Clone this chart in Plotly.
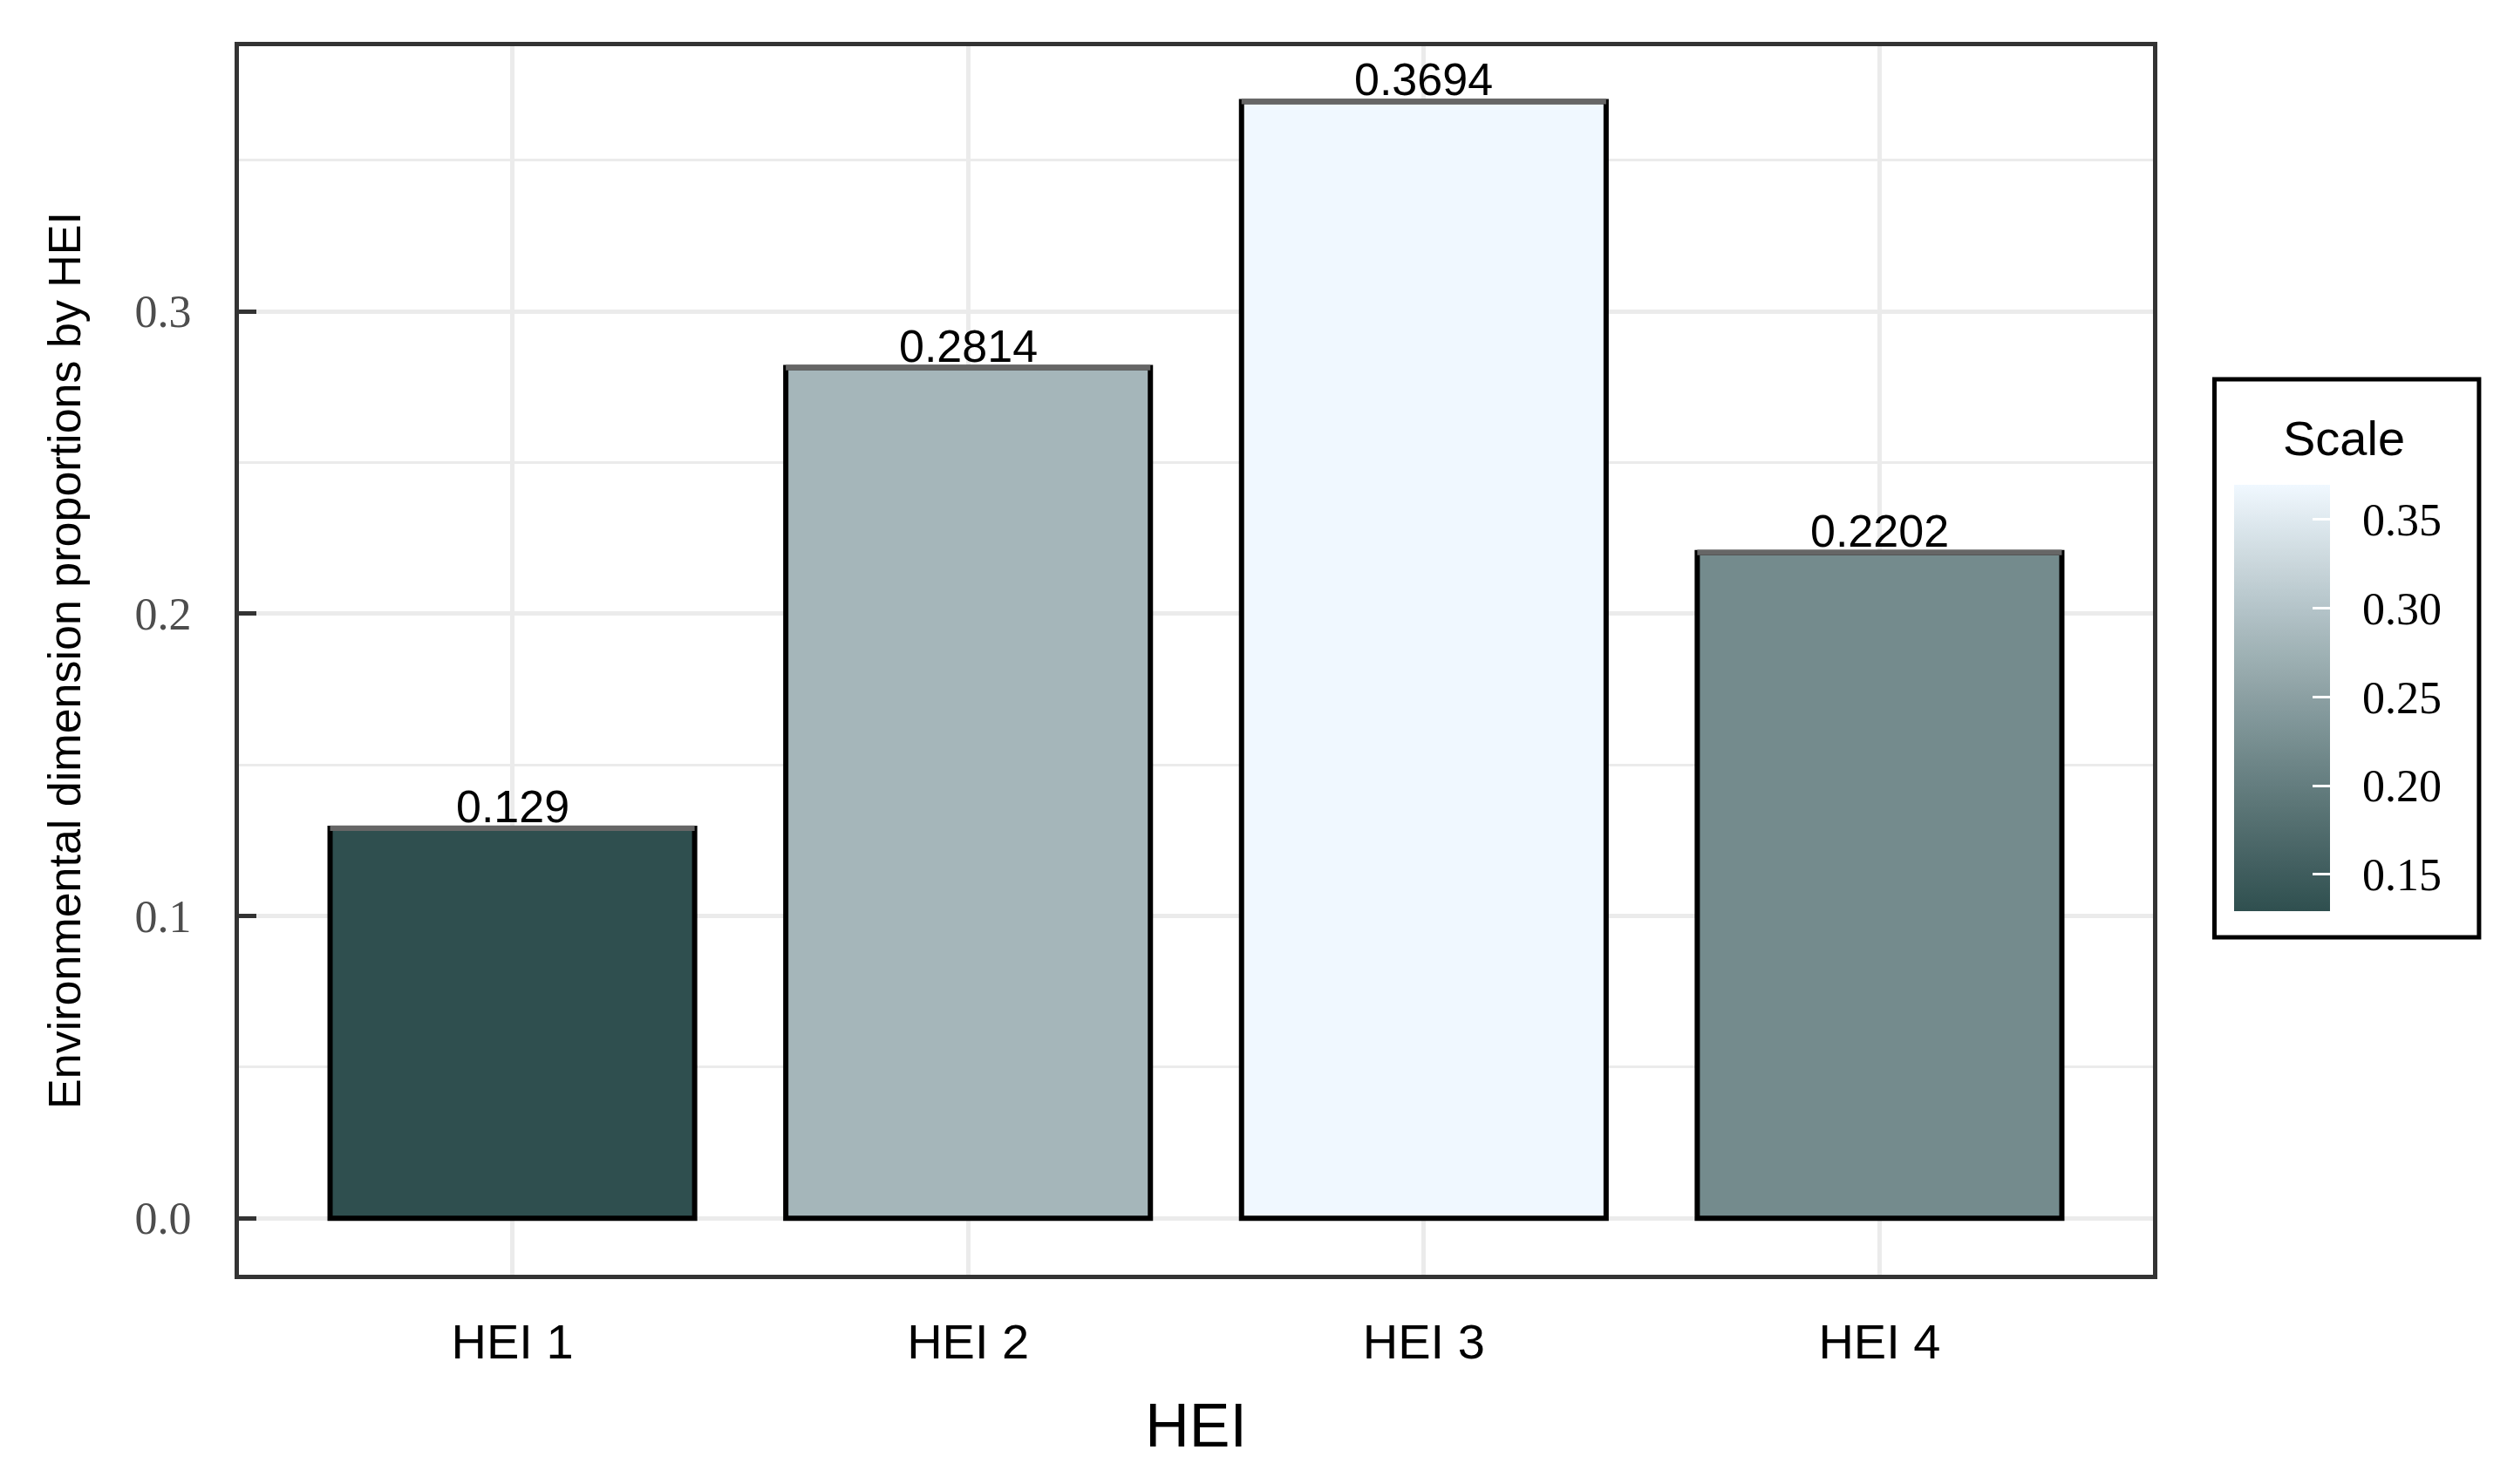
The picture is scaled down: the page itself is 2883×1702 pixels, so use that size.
import numpy as np
import plotly.graph_objects as go

categories = ["HEI 1", "HEI 2", "HEI 3", "HEI 4"]
values = [0.129, 0.2814, 0.3694, 0.2202]
labels = ["0.129", "0.2814", "0.3694", "0.2202"]
y_ticks = [0.0, 0.1, 0.2, 0.3]
y_ticklabels = ["0.0", "0.1", "0.2", "0.3"]
cb_ticks = [0.15, 0.20, 0.25, 0.30, 0.35]
cb_ticklabels = ["0.15", "0.20", "0.25", "0.30", "0.35"]

low_color = "#2F4F4F"
high_color = "#F0F8FF"


# gradient interpolated in CIELAB (like ggplot2's scale_fill_gradient)
def _hex2rgb(h):
    h = h.lstrip("#")
    return np.array([int(h[i:i + 2], 16) for i in (0, 2, 4)]) / 255.0


def _srgb2lin(c):
    return np.where(c <= 0.04045, c / 12.92, ((c + 0.055) / 1.055) ** 2.4)


def _lin2srgb(c):
    c = np.clip(c, 0, 1)
    return np.where(c <= 0.0031308, 12.92 * c, 1.055 * c ** (1 / 2.4) - 0.055)


M = np.array([[0.4124, 0.3576, 0.1805], [0.2126, 0.7152, 0.0722], [0.0193, 0.1192, 0.9505]])
WHT = np.array([0.95047, 1.0, 1.08883])


def _rgb2lab(rgb):
    xyz = M @ _srgb2lin(rgb) / WHT
    f = np.where(xyz > 0.008856, np.cbrt(xyz), 7.787 * xyz + 16 / 116)
    return np.array([116 * f[1] - 16, 500 * (f[0] - f[1]), 200 * (f[1] - f[2])])


def _lab2rgb(lab):
    fy = (lab[0] + 16) / 116
    fx = fy + lab[1] / 500
    fz = fy - lab[2] / 200
    f = np.array([fx, fy, fz])
    xyz = np.where(f ** 3 > 0.008856, f ** 3, (f - 16 / 116) / 7.787) * WHT
    return _lin2srgb(np.linalg.inv(M) @ xyz)


lab_lo, lab_hi = _rgb2lab(_hex2rgb(low_color)), _rgb2lab(_hex2rgb(high_color))
colorscale = []
for t in np.linspace(0, 1, 21):
    r, g, b = (np.round(_lab2rgb(lab_lo + t * (lab_hi - lab_lo)) * 255)).astype(int)
    colorscale.append([float(t), f"rgb({r},{g},{b})"])

cmin, cmax = min(values), max(values)

OFF = 8  # page body margin
W, H = 2883 - 2 * OFF, 1702 - 2 * OFF
plot_left, plot_right, plot_top, plot_bottom = 274 - OFF, 2469 - OFF, 53 - OFF, 1462 - OFF
L, R, T, B = plot_left, W - plot_right, plot_top, H - plot_bottom
pw = W - L - R
ph = H - T - B

fig = go.Figure()
fig.add_trace(go.Bar(
    x=categories, y=values, width=0.8,
    marker=dict(
        color=values, colorscale=colorscale, cmin=cmin, cmax=cmax,
        line=dict(color="black", width=6),
        showscale=True,
        colorbar=dict(
            title=dict(text="Scale", side="top",
                       font=dict(family="Liberation Sans", size=82, color="rgba(0,0,0,0)")),
            tickvals=cb_ticks,
            ticktext=["\u00a0\u00a0" + t for t in cb_ticklabels],
            tickfont=dict(family="Liberation Serif", size=52, color="black"),
            ticks="inside", tickcolor="white", ticklen=20, tickwidth=3,
            thicknessmode="pixels", thickness=110,
            lenmode="pixels", len=635,
            x=(2542 - OFF - L) / pw, xanchor="left",
            y=(plot_bottom - (753 - OFF)) / ph, yanchor="middle",
            xpad=20, ypad=25,
            outlinewidth=0,
            bordercolor="black", borderwidth=5, bgcolor="white",
        ),
    ),
    showlegend=False,
))
# grey cap on each bar top
cap = 0.0018
fig.add_trace(go.Bar(
    x=categories, y=[cap] * len(values), base=[v - cap / 2 for v in values],
    width=0.8, marker=dict(color="#666666", line=dict(width=0)),
    showlegend=False, hoverinfo="skip",
))

for c, v, lab in zip(categories, values, labels):
    fig.add_annotation(
        x=c, y=v, text=lab, showarrow=False, xanchor="center", yanchor="bottom",
        yshift=-6, font=dict(family="Liberation Sans", size=52, color="black"),
    )

fig.add_annotation(
    text="Scale", xref="paper", yref="paper",
    x=(2688 - OFF - L) / pw, y=(plot_bottom - (502 - OFF)) / ph,
    xanchor="center", yanchor="middle", showarrow=False,
    font=dict(family="Liberation Sans", size=56, color="black"),
)

fig.update_layout(
    width=W, height=H,
    margin=dict(l=L, r=R, t=T, b=B, autoexpand=False),
    paper_bgcolor="white", plot_bgcolor="white",
    barmode="overlay",
    xaxis=dict(
        range=[-0.6, 3.6],
        showgrid=True, gridcolor="#EBEBEB", gridwidth=5,
        showline=True, mirror=True, linecolor="#333333", linewidth=5,
        ticks="", ticklabelstandoff=24,
        tickfont=dict(family="Liberation Sans", size=56, color="black"),
        title=dict(text="HEI", standoff=42,
                   font=dict(family="Liberation Sans", size=70, color="black")),
        zeroline=False,
    ),
    yaxis=dict(
        range=[-0.0187, 0.3877],
        tickvals=y_ticks, ticktext=y_ticklabels,
        showgrid=True, gridcolor="#EBEBEB", gridwidth=5,
        minor=dict(dtick=0.05, tick0=0.05, showgrid=True, gridcolor="#EBEBEB", gridwidth=3),
        showline=True, mirror=True, linecolor="#333333", linewidth=5,
        ticks="inside", ticklen=20, tickwidth=5, tickcolor="#333333",
        ticklabelstandoff=39,
        tickfont=dict(family="Liberation Serif", size=52, color="#4D4D4D"),
        title=dict(text="Environmental dimension proportions by HEI", standoff=47,
                   font=dict(family="Liberation Sans", size=52, color="black")),
        zeroline=False,
    ),
)

fig.write_html("out.html")
